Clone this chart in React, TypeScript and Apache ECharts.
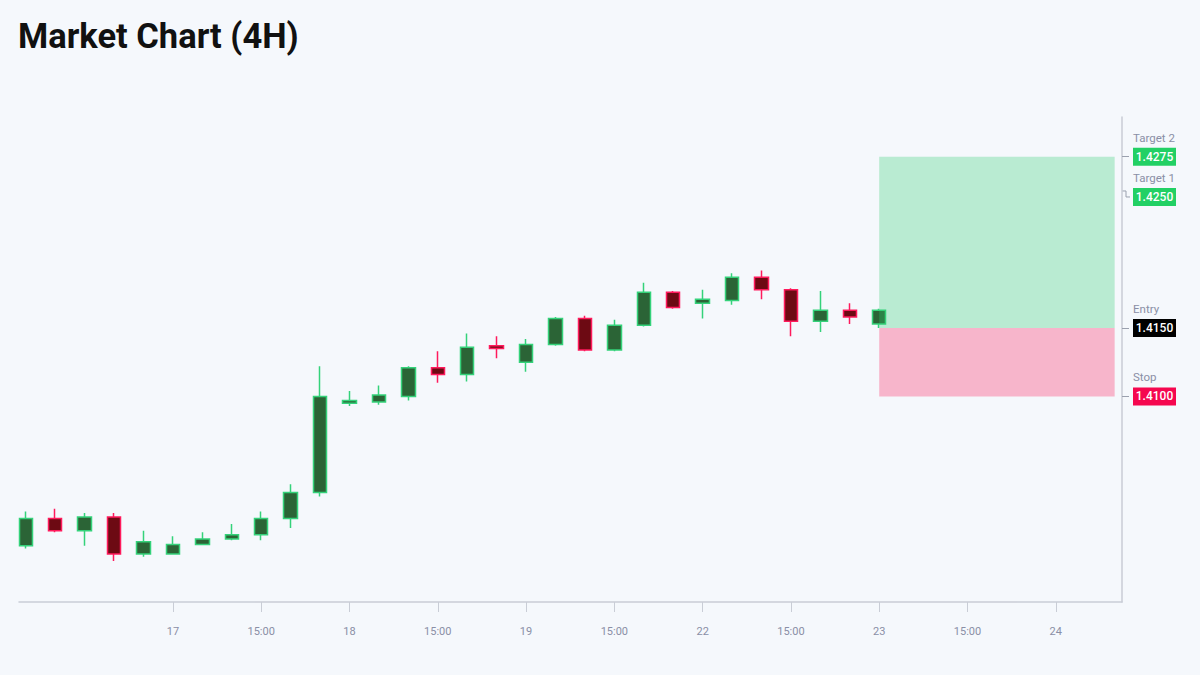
import React, { useEffect, useRef } from "react";
import * as echarts from "echarts";

const opens = [1.3991, 1.4011, 1.4002, 1.4012, 1.3985, 1.3985, 1.3992, 1.3996, 1.3999, 1.4011, 1.4030, 1.4095, 1.4096, 1.4100, 1.4121, 1.4116, 1.4137, 1.4125, 1.4138, 1.4157, 1.4134, 1.4152, 1.4176, 1.4168, 1.4170, 1.4187, 1.4178, 1.4155, 1.4163, 1.4153];
const closes = [1.4011, 1.4002, 1.4012, 1.3985, 1.3994, 1.3992, 1.3996, 1.3999, 1.4011, 1.4030, 1.4100, 1.4097, 1.4101, 1.4121, 1.4116, 1.4136, 1.4135, 1.4138, 1.4157, 1.4134, 1.4152, 1.4176, 1.4165, 1.4171, 1.4187, 1.4178, 1.4155, 1.4163, 1.4158, 1.4163];
const lows = [1.3989, 1.4001, 1.3991, 1.3980, 1.3983, 1.3985, 1.3992, 1.3995, 1.3995, 1.4004, 1.4027, 1.4093, 1.4094, 1.4097, 1.4110, 1.4111, 1.4128, 1.4118, 1.4137, 1.4133, 1.4133, 1.4151, 1.4164, 1.4157, 1.4167, 1.4171, 1.4144, 1.4147, 1.4153, 1.4150];
const highs = [1.4016, 1.4018, 1.4015, 1.4015, 1.4002, 1.3998, 1.4001, 1.4007, 1.4016, 1.4036, 1.4122, 1.4104, 1.4108, 1.4122, 1.4133, 1.4146, 1.4144, 1.4142, 1.4158, 1.4159, 1.4156, 1.4183, 1.4177, 1.4178, 1.4190, 1.4192, 1.4179, 1.4177, 1.4168, 1.4164];

const tickIndices = [5, 8, 11, 14, 17, 20, 23, 26, 29, 32, 35];
const tickLabels = ["17", "15:00", "18", "15:00", "19", "15:00", "22", "15:00", "23", "15:00", "24"];

const levelNames = ["Target 2", "Target 1", "Entry", "Stop"];
const levelValues = [1.4275, 1.425, 1.415, 1.41];
const levelColors = ["#22d064", "#22d064", "#000000", "#f5074f"];

const zoneStartIndex = 29;
const zoneEndIndex = 37.0;

export default function App() {
  const ref = useRef<HTMLDivElement>(null);
  useEffect(() => {
    document.body.style.margin = "0";
    const chart = echarts.init(ref.current!, undefined, { renderer: "svg" });
    const candleData = opens.map((o, i) => [i, o, closes[i], lows[i], highs[i]]);
    const axisColor = "#c9cdd6";
    chart.setOption({
      animation: false,
      backgroundColor: "#f5f8fc",
      textStyle: { fontFamily: "Roboto, 'Noto Sans', sans-serif" },
      title: {
        text: "Market Chart (4H)",
        left: 13,
        top: 13,
        textStyle: { fontSize: 34.5, fontWeight: "bold", color: "#111111", fontFamily: "Roboto, sans-serif" },
      },
      grid: { left: 19, right: 78, top: 117, bottom: 73, containLabel: false },
      xAxis: {
        type: "value",
        min: -0.23,
        max: 37.25,
        splitLine: { show: false },
        axisLine: { show: true, onZero: false, lineStyle: { color: axisColor, width: 1.5 } },
        axisTick: { show: true, length: 10, customValues: tickIndices, lineStyle: { color: axisColor } },
        axisLabel: {
          customValues: tickIndices,
          margin: 24,
          fontSize: 11,
          color: "#8a8fa6",
          formatter: (v: number) => {
            const k = tickIndices.indexOf(Math.round(v));
            return k >= 0 ? tickLabels[k] : "";
          },
        },
      },
      yAxis: {
        type: "value",
        position: "right",
        min: 1.395,
        max: 1.4304,
        scale: true,
        splitLine: { show: false },
        axisLine: { show: true, onZero: false, lineStyle: { color: axisColor, width: 1.5 } },
        axisTick: { show: true, length: 7, customValues: [1.4275, 1.415, 1.41], lineStyle: { color: "#9aa0ae" } },
        axisLabel: { show: false },
      },
      series: [
        {
          type: "candlestick",
          data: candleData,
          encode: { x: 0, y: [1, 2, 3, 4] },
          barWidth: 14,
          itemStyle: {
            color: "#2b6436",
            color0: "#6d0a13",
            borderColor: "#34d27a",
            borderColor0: "#ff1a5c",
            borderWidth: 1.5,
          },
          markArea: {
            silent: true,
            z: 5,
            data: [
              [
                { coord: [zoneStartIndex, levelValues[0]], itemStyle: { color: "rgba(46,204,113,0.3)" } },
                { coord: [zoneEndIndex, levelValues[2]] },
              ],
              [
                { coord: [zoneStartIndex, levelValues[2]], itemStyle: { color: "rgba(255,0,72,0.27)" } },
                { coord: [zoneEndIndex, levelValues[3]] },
              ],
            ],
          },
        },
      ],
    });

    const axisX = chart.convertToPixel({ xAxisIndex: 0 }, 37.25) as number;
    const elements: any[] = [];
    levelValues.forEach((v, i) => {
      const ty = chart.convertToPixel({ yAxisIndex: 0 }, v) as number;
      const by = i === 1 ? ty + 6 : ty;
      const bx = axisX + 11;
      if (i === 1) {
        elements.push({
          type: "polyline",
          shape: { points: [[axisX, ty], [axisX + 4, ty], [axisX + 4, by], [axisX + 8, by]] },
          style: { stroke: "#9aa0ae", lineWidth: 1, fill: null },
        });
      }
      elements.push({
        type: "text",
        x: bx,
        y: by - 19,
        style: { text: levelNames[i], fontSize: 11.5, fill: "#8a8fa6", fontFamily: "Roboto, sans-serif", verticalAlign: "middle", align: "left" },
      });
      elements.push({
        type: "rect",
        shape: { x: bx, y: by - 9, width: 43, height: 18 },
        style: { fill: levelColors[i] },
      });
      elements.push({
        type: "text",
        x: bx + 21.5,
        y: by,
        style: { text: v.toFixed(4), fontSize: 12, fontWeight: 500, fill: "#ffffff", fontFamily: "Roboto, sans-serif", align: "center", verticalAlign: "middle" },
      });
    });
    chart.setOption({ graphic: { elements } });

    return () => chart.dispose();
  }, []);
  return <div ref={ref} style={{ width: 1200, height: 675 }} />;
}
